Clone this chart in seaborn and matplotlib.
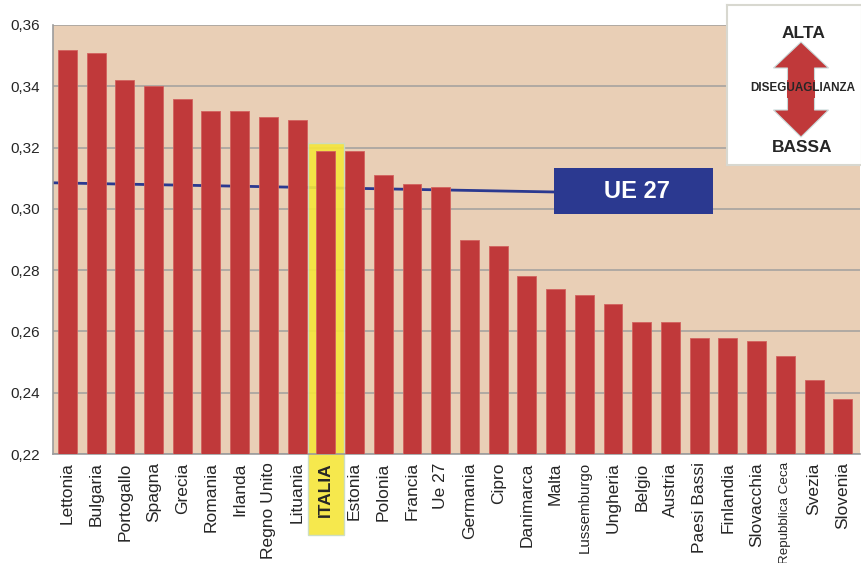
import matplotlib
matplotlib.use('Agg')
import matplotlib.pyplot as plt
import matplotlib.transforms as mtransforms
import seaborn as sns
import pandas as pd
from matplotlib.patches import Rectangle, FancyArrow
from matplotlib.ticker import FuncFormatter, FixedLocator

# Gini index by country
countries = ['Lettonia', 'Bulgaria', 'Portogallo', 'Spagna', 'Grecia', 'Romania',
             'Irlanda', 'Regno Unito', 'Lituania', 'ITALIA', 'Estonia', 'Polonia',
             'Francia', 'Ue 27', 'Germania', 'Cipro', 'Danimarca', 'Malta',
             'Lussemburgo', 'Ungheria', 'Belgio', 'Austria', 'Paesi Bassi',
             'Finlandia', 'Slovacchia', 'Repubblica Ceca', 'Svezia', 'Slovenia']
gini = [0.352, 0.351, 0.342, 0.340, 0.336, 0.332, 0.332, 0.330, 0.329, 0.319,
        0.319, 0.311, 0.308, 0.307, 0.290, 0.288, 0.278, 0.274, 0.272, 0.269,
        0.263, 0.263, 0.258, 0.258, 0.257, 0.252, 0.244, 0.238]

# UE 27 reference line (start / end)
ue_line_x = [-0.5, 17.0]
ue_line_y = [0.3085, 0.3055]

highlight = 'ITALIA'
long_names = {'Lussemburgo': 10.8, 'Repubblica Ceca': 9.6}  # shrunk so they fit
y_min, y_max = 0.22, 0.36
y_ticks = [0.22, 0.24, 0.26, 0.28, 0.30, 0.32, 0.34, 0.36]

sns.set_style('white')
plt.rcParams['font.family'] = ['Liberation Sans', 'DejaVu Sans']

df = pd.DataFrame({'paese': countries, 'gini': gini})

fig = plt.figure(figsize=(8.62, 5.63), dpi=100)
ax = fig.add_axes([53 / 862, 1 - 454 / 563, 807 / 862, 429 / 563])
ax.set_facecolor('#E9CFB6')

sns.barplot(data=df, x='paese', y='gini', color='#C0393A', width=0.66,
            saturation=1, ax=ax, zorder=3, edgecolor='#D2625E', linewidth=0.6)

ax.plot(ue_line_x, ue_line_y, color='#2B3990', lw=2.0, zorder=1.5,
        solid_capstyle='butt')

# yellow highlight box behind the Italy bar, extending over its label
hi = countries.index(highlight)
ax.add_patch(Rectangle((hi - 0.62, 0.1935), 1.24, 0.3215 - 0.1935,
                       facecolor='#F5E63A', edgecolor='#C9DCC6', lw=1.0,
                       alpha=0.9, zorder=2, clip_on=False))

ax.set_xlim(-0.5, len(countries) - 0.5 + 0.1)
ax.set_ylim(y_min, y_max)
ax.set_yticks(y_ticks)
ax.yaxis.set_major_formatter(FuncFormatter(lambda v, p: f'{v:.2f}'.replace('.', ',')))
ax.grid(axis='y', color='#ACA7A1', lw=1.3, zorder=1)
ax.set_axisbelow(True)
ax.set_xlabel('')
ax.set_ylabel('')

tick_labels = ['' if c == highlight else c for c in countries]
ax.set_xticks(range(len(countries)))
ax.set_xticklabels(tick_labels, rotation=90, fontsize=12.5)
for lab in ax.get_xticklabels():
    if lab.get_text() in long_names:
        lab.set_fontsize(long_names[lab.get_text()])
ax.xaxis.set_minor_locator(FixedLocator([i + 0.5 for i in range(-1, len(countries))]))
ax.tick_params(axis='x', which='major', length=0, pad=6)
ax.tick_params(axis='x', which='minor', length=5, color='#9C9C9C', width=1)
ax.tick_params(axis='y', length=6, color='#9C9C9C', width=1, labelsize=11)

# highlighted label drawn on top of the yellow box
lab_tr = mtransforms.blended_transform_factory(ax.transData, ax.transAxes) + \
    mtransforms.ScaledTranslation(0, -6 / 72, fig.dpi_scale_trans)
ax.text(hi, 0, highlight, transform=lab_tr, rotation=90, fontsize=12.5,
        fontweight='bold', ha='center', va='top', zorder=6, clip_on=False)

for s in ['top', 'right']:
    ax.spines[s].set_visible(False)
ax.spines['left'].set_color('#9C9C9C')
ax.spines['bottom'].set_color('#9C9C9C')
ax.spines['left'].set_linewidth(1.2)
ax.spines['bottom'].set_linewidth(1.2)

# UE 27 label box
fig.patches.append(Rectangle((554 / 862, 1 - 214 / 563), 159 / 862, 46 / 563,
                             transform=fig.transFigure, facecolor='#2B3990',
                             edgecolor='none', zorder=5))
fig.text(637 / 862, 1 - 191 / 563, 'UE 27', color='white', fontsize=17,
         fontweight='bold', ha='center', va='center', zorder=6)

# legend box with double arrow
lg = fig.add_axes([727 / 862, 1 - 165 / 563, 135 / 862, 160 / 563])
lg.set_xlim(727, 862)
lg.set_ylim(165, 5)
lg.set_xticks([])
lg.set_yticks([])
lg.set_facecolor('white')
for s in lg.spines.values():
    s.set_color('#D8D8D0')
    s.set_linewidth(1.5)
lg.add_patch(FancyArrow(801, 89, 0, -47, width=27, head_width=55, head_length=26,
                        length_includes_head=True, facecolor='#C0393A',
                        edgecolor='#C8D8D8', lw=0.8))
lg.add_patch(FancyArrow(801, 88, 0, 49, width=27, head_width=55, head_length=27,
                        length_includes_head=True, facecolor='#C0393A',
                        edgecolor='#C8D8D8', lw=0.8))
lg.add_patch(Rectangle((787.3, 80), 27.4, 18, facecolor='#C0393A', edgecolor='none'))
lg.text(804, 33, 'ALTA', fontsize=12.5, fontweight='bold',
        ha='center', va='center')
lg.text(803, 88, 'DISEGUAGLIANZA', fontsize=8.4, fontweight='bold',
        ha='center', va='center')
lg.text(802, 148, 'BASSA', fontsize=12.5, fontweight='bold',
        ha='center', va='center')

fig.savefig('out.png', dpi=100)
